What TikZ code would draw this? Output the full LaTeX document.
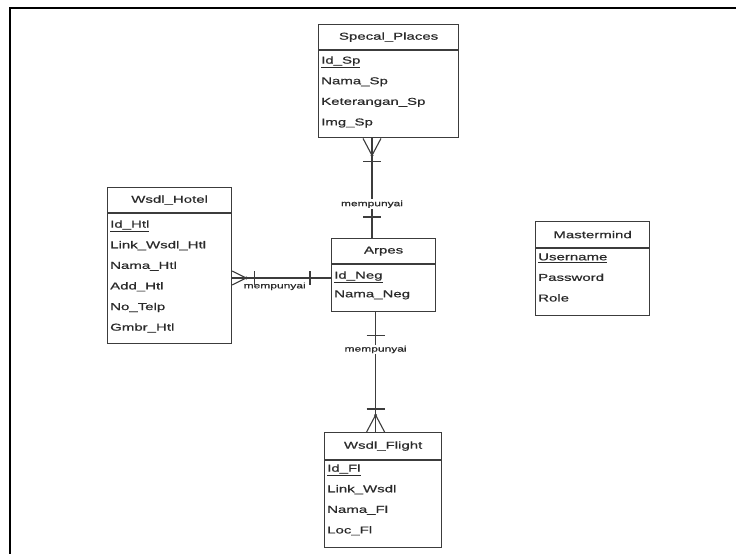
\documentclass[tikz,border=0pt]{standalone}
\usepackage{fontspec}
\setmainfont{Liberation Sans}[FakeStretch=1.5,FakeBold=0.6]
\usetikzlibrary{positioning}
\definecolor{boxgray}{HTML}{3C3C3C}
\definecolor{txtgray}{HTML}{2A2A2A}
\newcommand{\AttrFont}{\fontsize{10}{20.6}\selectfont}
\newcommand{\RelFont}{\fontsize{8}{9}\selectfont}

\begin{document}
\begin{tikzpicture}[x=1pt,y=-1pt,
  enthead/.style={draw=boxgray, line width=1.2pt, anchor=north west, inner sep=0pt, font=\AttrFont, text=txtgray},
  entbody/.style={draw=boxgray, line width=1.2pt, anchor=north west, inner sep=0pt},
  attrs/.style={align=left, inner sep=0pt, font=\AttrFont, text=txtgray},
  rel/.style={font=\RelFont, text=txtgray, inner sep=1pt},
  conn/.style={draw=boxgray, line width=1.1pt}]
\useasboundingbox (0,0) rectangle (736,554);

% draw page frame
\draw[line width=2.5pt] (10,554) -- (10,8) -- (736,8);

% draw entities
\node[enthead, minimum width=140, minimum height=25] (sphead) at (318,24) {Specal\_Places};
\node[entbody, minimum width=140, minimum height=87] (spbody) at (sphead.south west) {};
\node[attrs, below right=6pt and 3pt of spbody.north west] (spattr)
  {\underline{Id\_Sp}\\Nama\_Sp\\Keterangan\_Sp\\Img\_Sp};

\node[enthead, minimum width=124, minimum height=25] (hthead) at (107,187) {Wsdl\_Hotel};
\node[entbody, minimum width=124, minimum height=130] (htbody) at (hthead.south west) {};
\node[attrs, below right=7pt and 3pt of htbody.north west] (htattr)
  {\underline{Id\_Htl}\\Link\_Wsdl\_Htl\\Nama\_Htl\\Add\_Htl\\No\_Telp\\Gmbr\_Htl};

\node[enthead, minimum width=104, minimum height=25] (arhead) at (331,238) {Arpes};
\node[entbody, minimum width=104, minimum height=47] (arbody) at (arhead.south west) {};
\node[attrs, below right=7pt and 3pt of arbody.north west] (arattr)
  {\underline{Id\_Neg}\\[-2pt]Nama\_Neg};

\node[enthead, minimum width=114, minimum height=26] (mmhead) at (535,221) {Mastermind};
\node[entbody, minimum width=114, minimum height=67] (mmbody) at (mmhead.south west) {};
\node[attrs, below right=5pt and 3pt of mmbody.north west] (mmattr)
  {\underline{Username}\\Password\\Role};

\node[enthead, minimum width=117, minimum height=27] (flhead) at (324,432) {Wsdl\_Flight};
\node[entbody, minimum width=117, minimum height=87] (flbody) at (flhead.south west) {};
\node[attrs, below right=4pt and 3pt of flbody.north west] (flattr)
  {\underline{Id\_Fl}\\Link\_Wsdl\\Nama\_Fl\\Loc\_Fl};

% relation Specal_Places - Arpes
\coordinate (upx) at (372,0);
\coordinate (spend) at (spbody.south -| upx);
\coordinate (arup) at (arhead.north -| upx);
\draw[conn] (spend) -- node[rel, fill=white, pos=0.66] (rel1) {mempunyai} (arup);
\draw[conn] ([xshift=-9pt]spend) -- ([yshift=-17pt]spend) -- ([xshift=9pt]spend);
\fill[boxgray] ([yshift=-17pt]spend) circle (1.6pt);
\draw[conn] ([xshift=-9pt,yshift=-23pt]spend) -- ([xshift=9pt,yshift=-23pt]spend);
\draw[conn] ([xshift=-9pt,yshift=21pt]arup) -- ([xshift=9pt,yshift=21pt]arup);

% relation Wsdl_Hotel - Arpes
\coordinate (midy) at (0,278);
\coordinate (htend) at (htbody.east |- midy);
\coordinate (arleft) at (arbody.west |- midy);
\draw[conn] (htend) -- node[rel, pos=0.43, below=3pt] (rel2) {mempunyai} (arleft);
\draw[conn] ([yshift=7pt]htend) -- ([xshift=14pt]htend) -- ([yshift=-7pt]htend);
\fill[boxgray] ([xshift=14pt]htend) circle (1.6pt);
\draw[conn] ([xshift=22pt,yshift=7pt]htend) -- ([xshift=22pt,yshift=-7pt]htend);
\draw[conn] ([xshift=-21pt,yshift=7pt]arleft) -- ([xshift=-21pt,yshift=-7pt]arleft);

% relation Arpes - Wsdl_Flight
\coordinate (dnx) at (375.6,0);
\coordinate (arend) at (arbody.south -| dnx);
\coordinate (flup) at (flhead.north -| dnx);
\draw[conn] (arend) -- node[rel, fill=white, pos=0.31] (rel3) {mempunyai} (flup);
\draw[conn] ([xshift=-9pt,yshift=-23pt]arend) -- ([xshift=9pt,yshift=-23pt]arend);
\draw[conn] ([xshift=-9pt,yshift=23pt]flup) -- ([xshift=9pt,yshift=23pt]flup);
\draw[conn] ([xshift=-9pt]flup) -- ([yshift=17pt]flup) -- ([xshift=9pt]flup);
\fill[boxgray] ([yshift=17pt]flup) circle (1.6pt);

\end{tikzpicture}
\end{document}
